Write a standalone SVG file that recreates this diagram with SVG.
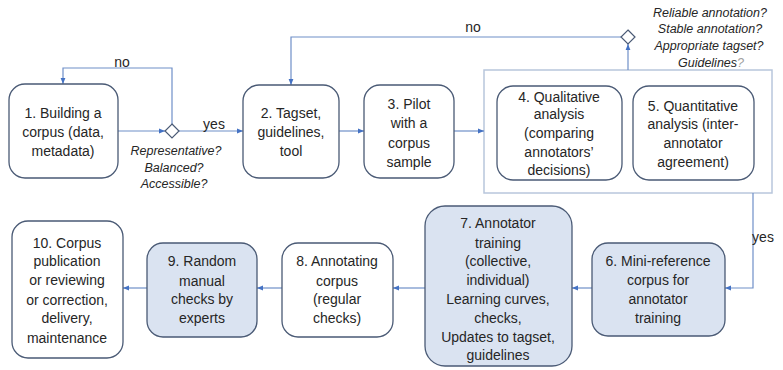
<svg xmlns="http://www.w3.org/2000/svg" width="783" height="370" viewBox="0 0 783 370">
<style>
.n{fill:#ffffff;stroke:#4a5a75;stroke-width:1.3}
.b{fill:#dae3f1;stroke:#4a5a75;stroke-width:1.3}
.t{font-family:"Liberation Sans",Arial,sans-serif;font-size:14px;fill:#262626;text-anchor:middle}
.q{font-family:"Liberation Sans",Arial,sans-serif;font-size:12.5px;font-style:italic;fill:#262626;text-anchor:middle}
.c{fill:none;stroke:#6f8fc8;stroke-width:1.2}
.d{fill:#ffffff;stroke:#4a5a75;stroke-width:1.2}
</style>
<defs>
<marker id="ah" viewBox="0 0 10 10" refX="10" refY="5" markerWidth="6" markerHeight="6" orient="auto" markerUnits="userSpaceOnUse">
<path d="M0,1 L10,5 L0,9 z" fill="#4472c4"/>
</marker>
</defs>
<rect x="484" y="70" width="288" height="123" fill="none" stroke="#b8c6dc" stroke-width="1.5"/>
<g id="connectors">
<path class="c" d="M117,131 H165" marker-end="url(#ah)"/>
<path class="c" d="M172,124 V68 H63 V84" marker-end="url(#ah)"/>
<path class="c" d="M179,131 H243" marker-end="url(#ah)"/>
<path class="c" d="M339,131 H364" marker-end="url(#ah)"/>
<path class="c" d="M454,131 H484" marker-end="url(#ah)"/>
<path class="c" d="M628,70 V44" marker-end="url(#ah)"/>
<path class="c" d="M621,37 H291 V85" marker-end="url(#ah)"/>
<path class="c" d="M753,193 V288 H725" marker-end="url(#ah)"/>
<path class="c" d="M592,288 H572" marker-end="url(#ah)"/>
<path class="c" d="M425,288 H393" marker-end="url(#ah)"/>
<path class="c" d="M282,288 H257" marker-end="url(#ah)"/>
<path class="c" d="M147,288 H123" marker-end="url(#ah)"/>
<text class="t" x="122" y="67">no</text>
<text class="t" x="214" y="129">yes</text>
<text class="t" x="473" y="32">no</text>
<text class="t" x="763" y="242">yes</text>
</g>
<g id="decision1">
<path class="d" d="M172,124 L179,131 L172,138 L165,131 z"/>
<text class="q" x="176" y="155">Representative?</text>
<text class="q" x="174" y="172">Balanced?</text>
<text class="q" x="174" y="188">Accessible?</text>
</g>
<g id="decision2">
<path class="d" d="M628,30 L635,37 L628,44 L621,37 z"/>
<text class="q" x="710" y="17">Reliable annotation?</text>
<text class="q" x="710" y="33">Stable annotation?</text>
<text class="q" x="709" y="50">Appropriate tagset?</text>
<text class="q" x="711" y="67">Guidelines<tspan fill="#a0a0a0">?</tspan></text>
</g>
<g id="node1">
<rect class="n" x="9" y="84" width="109" height="94" rx="16"/>
<text class="t" x="63" y="118">1. Building a</text>
<text class="t" x="63" y="137">corpus (data,</text>
<text class="t" x="63" y="156">metadata)</text>
</g>
<g id="node2">
<rect class="n" x="243" y="85" width="96" height="93" rx="16"/>
<text class="t" x="291" y="118">2. Tagset,</text>
<text class="t" x="291" y="137">guidelines,</text>
<text class="t" x="291" y="156">tool</text>
</g>
<g id="node3">
<rect class="n" x="364" y="85" width="90" height="93" rx="16"/>
<text class="t" x="409" y="109">3. Pilot</text>
<text class="t" x="409" y="128">with a</text>
<text class="t" x="409" y="148">corpus</text>
<text class="t" x="409" y="167">sample</text>
</g>
<g id="node4">
<rect class="n" x="497" y="86" width="125" height="94" rx="16"/>
<text class="t" x="559" y="102">4. Qualitative</text>
<text class="t" x="559" y="119">analysis</text>
<text class="t" x="559" y="138">(comparing</text>
<text class="t" x="559" y="157">annotators’</text>
<text class="t" x="559" y="175">decisions)</text>
</g>
<g id="node5">
<rect class="n" x="633" y="86" width="121" height="94" rx="16"/>
<text class="t" x="693" y="111">5. Quantitative</text>
<text class="t" x="693" y="129">analysis (inter-</text>
<text class="t" x="693" y="148">annotator</text>
<text class="t" x="693" y="167">agreement)</text>
</g>
<g id="node6">
<rect class="b" x="592" y="243" width="133" height="93" rx="16"/>
<text class="t" x="658" y="266">6. Mini-reference</text>
<text class="t" x="658" y="285">corpus for</text>
<text class="t" x="658" y="304">annotator</text>
<text class="t" x="658" y="323">training</text>
</g>
<g id="node7">
<rect class="b" x="425" y="206" width="147" height="160" rx="20"/>
<text class="t" x="498" y="228">7. Annotator</text>
<text class="t" x="498" y="248">training</text>
<text class="t" x="498" y="266">(collective,</text>
<text class="t" x="498" y="285">individual)</text>
<text class="t" x="498" y="304">Learning curves,</text>
<text class="t" x="498" y="323">checks,</text>
<text class="t" x="498" y="342">Updates to tagset,</text>
<text class="t" x="498" y="360">guidelines</text>
</g>
<g id="node8">
<rect class="n" x="282" y="243" width="111" height="94" rx="16"/>
<text class="t" x="337" y="266">8. Annotating</text>
<text class="t" x="337" y="286">corpus</text>
<text class="t" x="337" y="304">(regular</text>
<text class="t" x="337" y="323">checks)</text>
</g>
<g id="node9">
<rect class="b" x="147" y="243" width="110" height="94" rx="16"/>
<text class="t" x="202" y="266">9. Random</text>
<text class="t" x="202" y="286">manual</text>
<text class="t" x="202" y="304">checks by</text>
<text class="t" x="202" y="323">experts</text>
</g>
<g id="node10">
<rect class="n" x="12" y="221" width="111" height="137" rx="16"/>
<text class="t" x="67" y="248">10. Corpus</text>
<text class="t" x="67" y="266">publication</text>
<text class="t" x="67" y="285">or reviewing</text>
<text class="t" x="67" y="305">or correction,</text>
<text class="t" x="67" y="323">delivery,</text>
<text class="t" x="67" y="343">maintenance</text>
</g>
</svg>
